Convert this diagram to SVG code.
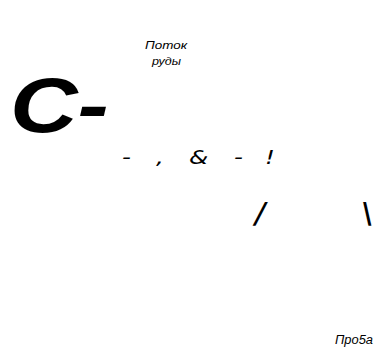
<svg xmlns="http://www.w3.org/2000/svg" width="376" height="349" viewBox="0 0 376 349">
<style>
.lab{font-family:"Liberation Sans",Arial,sans-serif;font-style:italic;fill:#000}
.sym{font-family:"DejaVu Sans",sans-serif;font-style:italic;font-size:19px;fill:#000}
.sl{font-family:"DejaVu Sans",sans-serif;font-size:29px;fill:#000}
</style>
<rect width="376" height="349" fill="#fff"/>
<g id="flow-label"><text class="lab" x="145" y="49" font-size="10" textLength="42" lengthAdjust="spacingAndGlyphs">Поток</text><text class="lab" x="152" y="65" font-size="10" textLength="29" lengthAdjust="spacingAndGlyphs">руды</text></g>
<g id="big-c"><text transform="translate(10,132) scale(1.2,1)" font-family="Liberation Sans,Arial,sans-serif" font-weight="bold" font-style="italic" font-size="78">С-</text></g>
<g id="row">
<text class="sym" transform="translate(122,164) scale(1.3,1)">-</text>
<text class="sym" transform="translate(156,164) scale(1.3,1)">,</text>
<text class="sym" transform="translate(189,164) scale(1.3,1)">&amp;</text>
<text class="sym" transform="translate(234,164) scale(1.3,1)">-</text>
<text class="sym" transform="translate(265,164) scale(1.3,1)">!</text>
</g>
<g id="slashes">
<text class="sl" transform="translate(253,223) scale(1.2,1) skewX(-7)">/</text>
<text class="sl" transform="translate(360,223) scale(1.2,1) skewX(-7)">\</text>
</g>
<g id="probe"><text class="lab" x="335" y="344" font-size="12.5" textLength="38" lengthAdjust="spacingAndGlyphs">Про5а</text></g>
</svg>
